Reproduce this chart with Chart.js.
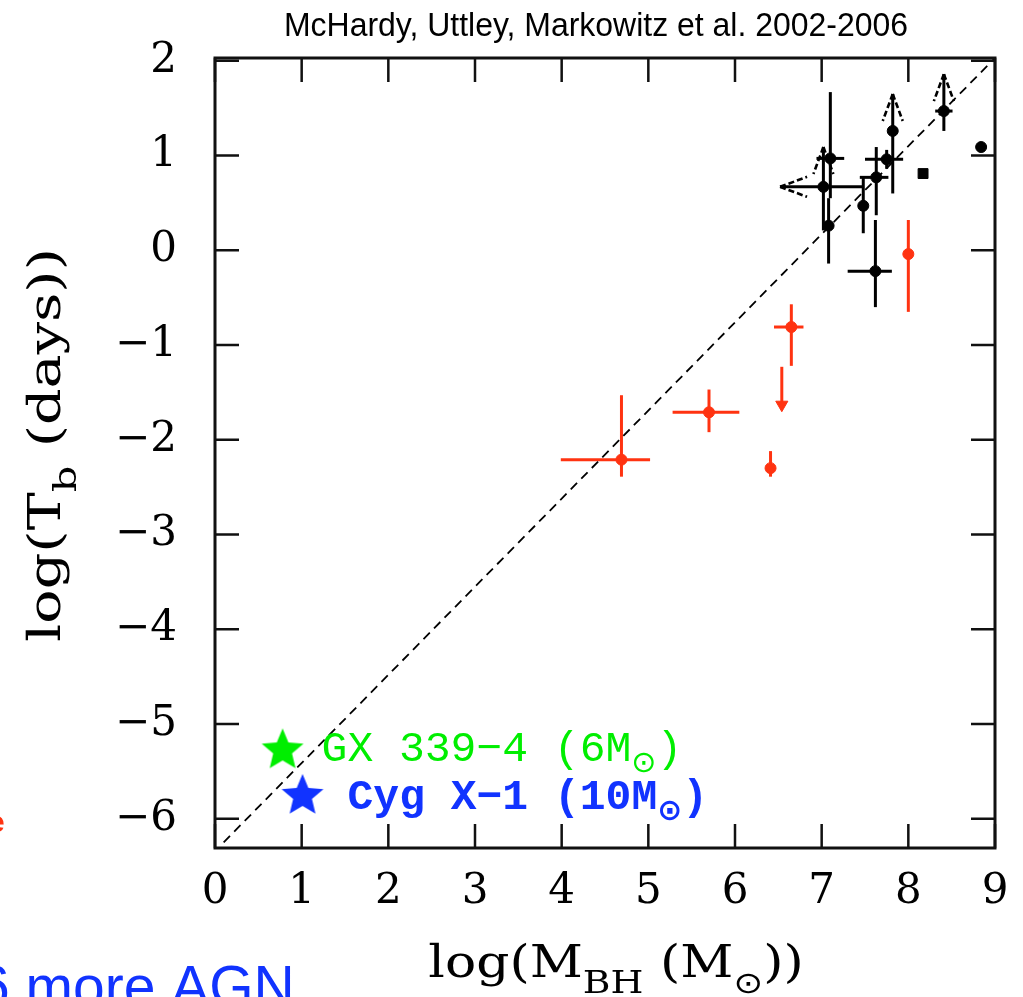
<!DOCTYPE html>
<html>
<head>
<meta charset="utf-8">
<script src="https://cdn.jsdelivr.net/npm/chart.js@4.4.1/dist/chart.umd.min.js"></script>
<style>
  html, body { margin: 0; padding: 0; background: #fff; }
</style>
</head>
<body>
<canvas id="tbChart" width="1023" height="997"></canvas>
<script>
// tick values
const xTicks = [0, 1, 2, 3, 4, 5, 6, 7, 8, 9];
const yTicks = [-6, -5, -4, -3, -2, -1, 0, 1, 2];

// AGN (black): point, x range, y range, limit flags
const agnX   = [7.02, 7.10, 7.08, 7.48, 7.63, 7.62, 7.75, 7.82, 8.41, 8.84];
const agnY   = [0.67, 0.97, 0.26, 0.47, 0.77, -0.22, 0.96, 1.26, 1.47, 1.09];
const agnXLo = [6.52, 6.94, 7.08, 7.44, 7.44, 7.30, 7.50, 7.82, 8.31, 8.84];
const agnXHi = [7.47, 7.26, 7.08, 7.52, 7.77, 7.81, 7.94, 7.82, 8.51, 8.84];
const agnYLo = [0.21, 0.55, -0.14, 0.18, 0.37, -0.60, 0.86, 0.60, 1.26, 1.09];
const agnYHi = [1.09, 1.67, 0.55, 0.77, 1.09, 0.32, 1.06, 1.65, 1.86, 1.09];
const agnUpLim   = [true, false, false, false, false, false, false, true, true, false];
const agnLeftLim = [true, false, false, false, false, false, false, false, false, false];
const agnSqX = [8.17];
const agnSqY = [0.81];

// red points
const redX   = [4.69, 5.70, 6.65, 6.41, 8.00];
const redY   = [-2.21, -1.71, -0.81, -2.30, -0.04];
const redXLo = [3.99, 5.28, 6.45, 6.41, 8.00];
const redXHi = [5.02, 6.05, 6.79, 6.41, 8.00];
const redYLo = [-2.39, -1.92, -1.22, -2.39, -0.65];
const redYHi = [-1.53, -1.47, -0.57, -2.12, 0.32];
const redLimX  = [6.54];
const redLimY  = [-1.63];
const redLimYHi = [-1.23];

// X-ray binaries
const gxX = [0.78], gxY = [-5.28];
const cygX = [1.01], cygY = [-5.76];

// one-to-one line
const diagX = [0.1, 9.0];
const diagY = [-6.25, 2.03];

const RED = '#ff3311';
const GREEN = '#00ee00';
const BLUE = '#1133ff';

function pts(xs, ys) {
  return xs.map(function (v, i) { return { x: v, y: ys[i] }; });
}

function starImage(color, r) {
  const c = document.createElement('canvas');
  c.width = c.height = 2 * r + 2;
  const g = c.getContext('2d');
  g.beginPath();
  for (let i = 0; i < 10; i++) {
    const a = -Math.PI / 2 + i * Math.PI / 5;
    const rr = i % 2 ? r * 0.45 : r;
    g.lineTo(r + 1 + rr * Math.cos(a), r + 1 + rr * Math.sin(a));
  }
  g.closePath();
  g.fillStyle = color;
  g.fill();
  return c;
}

// draws a run of text pieces (for subscripts), left or centred; sx stretches it sideways
function richText(ctx, parts, x, y, align, sx) {
  sx = sx || 1;
  let w = 0;
  parts.forEach(function (p) { ctx.font = p.font; w += ctx.measureText(p.t).width; });
  ctx.save();
  ctx.translate(x, y);
  ctx.scale(sx, 1);
  let cx = align === 'center' ? -w / 2 : 0;
  ctx.textAlign = 'left';
  ctx.textBaseline = 'alphabetic';
  parts.forEach(function (p) {
    ctx.font = p.font;
    ctx.fillText(p.t, cx, p.dy || 0);
    cx += ctx.measureText(p.t).width;
  });
  ctx.restore();
}

function arrowHead(ctx, tx, ty, dx, dy) {
  // open arrowhead at (tx,ty), arms running back along (dx,dy)
  const len = 27, half = 10;
  const nx = -dy, ny = dx;
  ctx.save();
  ctx.lineWidth = 2.6;
  ctx.setLineDash([6, 3]);
  ctx.beginPath();
  ctx.moveTo(tx, ty);
  ctx.lineTo(tx + dx * len + nx * half, ty + dy * len + ny * half);
  ctx.moveTo(tx, ty);
  ctx.lineTo(tx + dx * len - nx * half, ty + dy * len - ny * half);
  ctx.stroke();
  ctx.restore();
}

function drawBars(ctx, xs, ys, color, xv, yv, xlo, xhi, ylo, yhi, up, left) {
  ctx.strokeStyle = color;
  ctx.lineWidth = 3;
  ctx.setLineDash([]);
  xv.forEach(function (v, i) {
    const px = xs.getPixelForValue(v), py = ys.getPixelForValue(yv[i]);
    if (xhi[i] > xlo[i]) {
      ctx.beginPath();
      ctx.moveTo(xs.getPixelForValue(xlo[i]), py);
      ctx.lineTo(xs.getPixelForValue(xhi[i]), py);
      ctx.stroke();
    }
    if (yhi[i] > ylo[i]) {
      ctx.beginPath();
      ctx.moveTo(px, ys.getPixelForValue(ylo[i]));
      ctx.lineTo(px, ys.getPixelForValue(yhi[i]));
      ctx.stroke();
    }
    if (up && up[i]) arrowHead(ctx, px, ys.getPixelForValue(yhi[i]), 0, 1);
    if (left && left[i]) arrowHead(ctx, xs.getPixelForValue(xlo[i]), py, 1, 0);
  });
}

const errorBars = {
  id: 'errorBars',
  beforeDatasetsDraw(chart) {
    const ctx = chart.ctx, xs = chart.scales.x, ys = chart.scales.y, a = chart.chartArea;
    ctx.save();
    ctx.beginPath();
    ctx.rect(a.left, a.top, a.right - a.left, a.bottom - a.top);
    ctx.clip();
    drawBars(ctx, xs, ys, '#000', agnX, agnY, agnXLo, agnXHi, agnYLo, agnYHi, agnUpLim, agnLeftLim);
    drawBars(ctx, xs, ys, RED, redX, redY, redXLo, redXHi, redYLo, redYHi);
    drawBars(ctx, xs, ys, RED, redLimX, redLimY, redLimX, redLimX, redLimY, redLimYHi);
    ctx.restore();
  }
};

// box with inward ticks on all four sides, axis titles and notes
const frame = {
  id: 'frame',
  afterDraw(chart) {
    const ctx = chart.ctx, xs = chart.scales.x, ys = chart.scales.y, a = chart.chartArea;
    const tl = 24;
    ctx.save();
    ctx.strokeStyle = '#111';
    ctx.lineWidth = 2.5;
    xTicks.forEach(function (v) {
      const px = xs.getPixelForValue(v);
      ctx.beginPath();
      ctx.moveTo(px, a.bottom); ctx.lineTo(px, a.bottom - tl);
      ctx.moveTo(px, a.top); ctx.lineTo(px, a.top + tl);
      ctx.stroke();
    });
    yTicks.forEach(function (v) {
      const py = ys.getPixelForValue(v);
      ctx.beginPath();
      ctx.moveTo(a.left, py); ctx.lineTo(a.left + tl, py);
      ctx.moveTo(a.right, py); ctx.lineTo(a.right - tl, py);
      ctx.stroke();
    });
    ctx.lineWidth = 3;
    ctx.strokeRect(a.left, a.top, a.right - a.left, a.bottom - a.top);

    // star labels
    const sym = '⊙';
    ctx.fillStyle = GREEN;
    const gx = xs.getPixelForValue(gxX[0]), gy = ys.getPixelForValue(gxY[0]);
    richText(ctx, [
      { t: 'GX 339−4 (6M', font: '43px "Liberation Mono"' },
      { t: sym, font: '30px "DejaVu Sans"', dy: 11 },
      { t: ')', font: '43px "Liberation Mono"' }
    ], gx + 39, gy + 11, 'left');
    ctx.fillStyle = BLUE;
    const cx = xs.getPixelForValue(cygX[0]), cy = ys.getPixelForValue(cygY[0]);
    richText(ctx, [
      { t: 'Cyg X−1 (10M', font: 'bold 43px "Liberation Mono"' },
      { t: sym, font: 'bold 30px "DejaVu Sans"', dy: 11 },
      { t: ')', font: 'bold 43px "Liberation Mono"' }
    ], cx + 45, cy + 13, 'left');

    // axis titles
    ctx.fillStyle = '#000';
    const big = '44px "DejaVu Serif"', small = '32px "DejaVu Serif"', osym = '30px "DejaVu Sans"';
    richText(ctx, [
      { t: 'log(M', font: big },
      { t: 'BH', font: small, dy: 16 },
      { t: ' (M', font: big },
      { t: sym, font: osym, dy: 16 },
      { t: '))', font: big }
    ], 616, 977, 'center', 1.18);

    ctx.save();
    ctx.translate(60, 445);
    ctx.rotate(-Math.PI / 2);
    richText(ctx, [
      { t: 'log(T', font: big },
      { t: 'b', font: small, dy: 16 },
      { t: ' (days))', font: big }
    ], 0, 0, 'center', 1.3);
    ctx.restore();

    // heading
    ctx.save();
    ctx.fillStyle = '#000';
    ctx.font = '34px "Liberation Sans"';
    ctx.textAlign = 'center';
    ctx.textBaseline = 'alphabetic';
    ctx.translate(596, 36);
    ctx.scale(0.94, 1);
    ctx.fillText('McHardy, Uttley, Markowitz et al. 2002-2006', 0, 0);
    ctx.restore();

    // slide text running off the edge
    ctx.fillStyle = BLUE;
    ctx.font = '57px "Liberation Sans"';
    ctx.textAlign = 'left';
    ctx.fillText('6 more AGN', -22, 1006);
    ctx.fillStyle = RED;
    ctx.font = 'bold 30px "Liberation Sans"';
    ctx.fillText('e', -12, 832);
    ctx.restore();
  }
};

const tickFont = { family: 'DejaVu Serif', size: 42 };

new Chart(document.getElementById('tbChart'), {
  type: 'scatter',
  data: {
    datasets: [
      {
        type: 'line',
        data: pts(diagX, diagY),
        borderColor: '#000',
        borderWidth: 1.8,
        borderDash: [9, 6],
        pointRadius: 0,
        fill: false
      },
      {
        data: pts(agnX, agnY),
        backgroundColor: '#000',
        borderColor: '#000',
        pointRadius: 5.5
      },
      {
        data: pts(agnSqX, agnSqY),
        pointStyle: 'rect',
        backgroundColor: '#000',
        borderColor: '#000',
        pointRadius: 7
      },
      {
        data: pts(redX, redY),
        backgroundColor: RED,
        borderColor: RED,
        pointRadius: 5.5
      },
      {
        data: pts(redLimX, redLimY),
        pointStyle: 'triangle',
        rotation: 180,
        backgroundColor: RED,
        borderColor: RED,
        pointRadius: 7
      },
      {
        data: pts(gxX, gxY),
        pointStyle: starImage(GREEN, 22),
        clip: false
      },
      {
        data: pts(cygX, cygY),
        pointStyle: starImage(BLUE, 22),
        clip: false
      }
    ]
  },
  options: {
    responsive: false,
    animation: false,
    layout: { padding: { top: 58, right: 28, left: 0, bottom: 0 } },
    plugins: {
      legend: { display: false },
      tooltip: { enabled: false },
      title: { display: false }
    },
    scales: {
      x: {
        type: 'linear',
        min: 0,
        max: 9,
        grid: { display: false, drawTicks: false },
        border: { display: false },
        afterFit: function (s) {
          s.height = 149;
          s.paddingLeft = 0;
          s.paddingRight = 0;
        },
        afterBuildTicks: function (s) { s.ticks = xTicks.map(function (v) { return { value: v }; }); },
        ticks: {
          color: '#000',
          font: tickFont,
          padding: 19,
          maxRotation: 0,
          autoSkip: false
        }
      },
      y: {
        type: 'linear',
        min: -6.31,
        max: 2.03,
        grid: { display: false, drawTicks: false },
        border: { display: false },
        afterFit: function (s) {
          s.width = 215;
          s.paddingTop = 0;
          s.paddingBottom = 0;
        },
        afterBuildTicks: function (s) { s.ticks = yTicks.map(function (v) { return { value: v }; }); },
        ticks: {
          color: '#000',
          font: tickFont,
          padding: 38,
          autoSkip: false,
          callback: function (v) { return v < 0 ? '−' + Math.abs(v) : String(v); }
        }
      }
    }
  },
  plugins: [errorBars, frame]
});
</script>
</body>
</html>
